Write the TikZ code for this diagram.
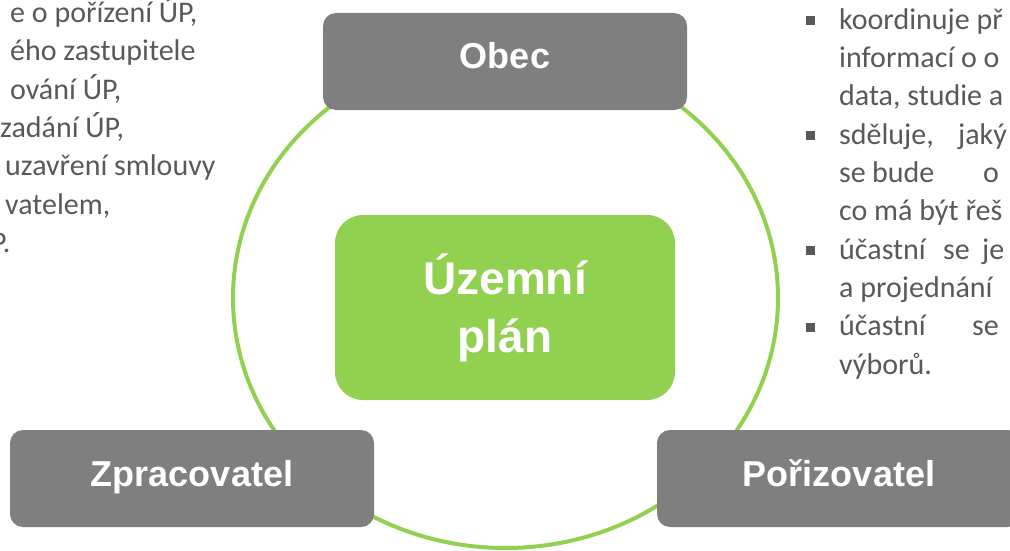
\documentclass[tikz,border=0pt]{standalone}
\usepackage{fontspec}
\setmainfont{Carlito}
\newfontfamily\headfont{Liberation Sans}
\usetikzlibrary{positioning}

\definecolor{plangreen}{HTML}{92D050}
\definecolor{rolegray}{HTML}{7F7F7F}
\definecolor{bodygray}{HTML}{595959}

\begin{document}
\begin{tikzpicture}
  [ x=1pt, y=-1pt
  , rolebox/.style={ fill=rolegray, rounded corners=13pt
                   , minimum width=364pt, minimum height=97pt, inner sep=0pt
                   , text=white, font=\headfont\bfseries\fontsize{36}{43}\selectfont
                   , text height=26pt, text depth=11pt
                   }
  , planbox/.style={ fill=plangreen, rounded corners=28pt
                   , minimum width=340pt, minimum height=185pt, inner sep=0pt
                   , text=white, align=center
                   , font=\headfont\bfseries\fontsize{46}{58}\selectfont
                   }
  , bodytext/.style={ anchor=base west, inner sep=0pt, text=bodygray
                    , font=\fontsize{30}{38}\selectfont
                    }
  , bulletmark/.style={fill=bodygray, minimum size=9pt, inner sep=0pt}
  ]

  \useasboundingbox (0,0) rectangle (1010,551);
  \clip (0,0) rectangle (1010,551);

  % ring behind the boxes
  \draw [plangreen, line width=4pt] (505.5,298) ellipse [x radius=272.5pt, y radius=250pt];

  \node [rolebox] (obec)  at (505,61.5)  {Obec};
  \node [rolebox] (zprac) at (192,478.5) {Zpracovatel};
  \node [rolebox] (poriz) at (839,478.5) {Pořizovatel};
  \node [planbox] (plan)  at (505,307.5) {Územní\\plán};

  % left column, cut at the page edge
  \node [bodytext] (left1) at (10,22.5)  {e o pořízení ÚP,};
  \node [bodytext] (left2) at (10,60.8)  {ého zastupitele};
  \node [bodytext] (left3) at (10,99.1)  {ování ÚP,};
  \node [bodytext] (left4) at (0,137.4)  {zadání ÚP,};
  \node [bodytext] (left5) at (5,175.7)  {uzavření smlouvy};
  \node [bodytext] (left6) at (5,214)    {vatelem,};
  \node [bodytext] (left7) at (-9,252.3) {P.};

  % right column, justified lines
  \node [bodytext] (right1)  at (839,29.3)  {koordinuje př};
  \node [bodytext] (right2)  at (839,67.6)  {informací o o};
  \node [bodytext] (right3)  at (839,105.9) {data, studie a};
  \node [bodytext] (right4)  at (839,144.2) {\rlap{sděluje,}\hspace*{119pt}jaký};
  \node [bodytext] (right5)  at (839,182.5) {\rlap{se}\hspace*{33pt}\rlap{bude}\hspace*{111pt}o};
  \node [bodytext] (right6)  at (839,220.8) {co má být řeš};
  \node [bodytext] (right7)  at (839,259.1) {\rlap{účastní}\hspace*{104pt}\rlap{se}\hspace*{39pt}je};
  \node [bodytext] (right8)  at (839,297.4) {a projednání};
  \node [bodytext] (right9)  at (839,335.7) {\rlap{účastní}\hspace*{133pt}se};
  \node [bodytext] (right10) at (839,374)   {výborů.};

  \node [bulletmark] (dot1) at (810.5,20.7)  {};
  \node [bulletmark] (dot2) at (810.5,135.6) {};
  \node [bulletmark] (dot3) at (810.5,250.5) {};
  \node [bulletmark] (dot4) at (810.5,327.1) {};

\end{tikzpicture}
\end{document}
